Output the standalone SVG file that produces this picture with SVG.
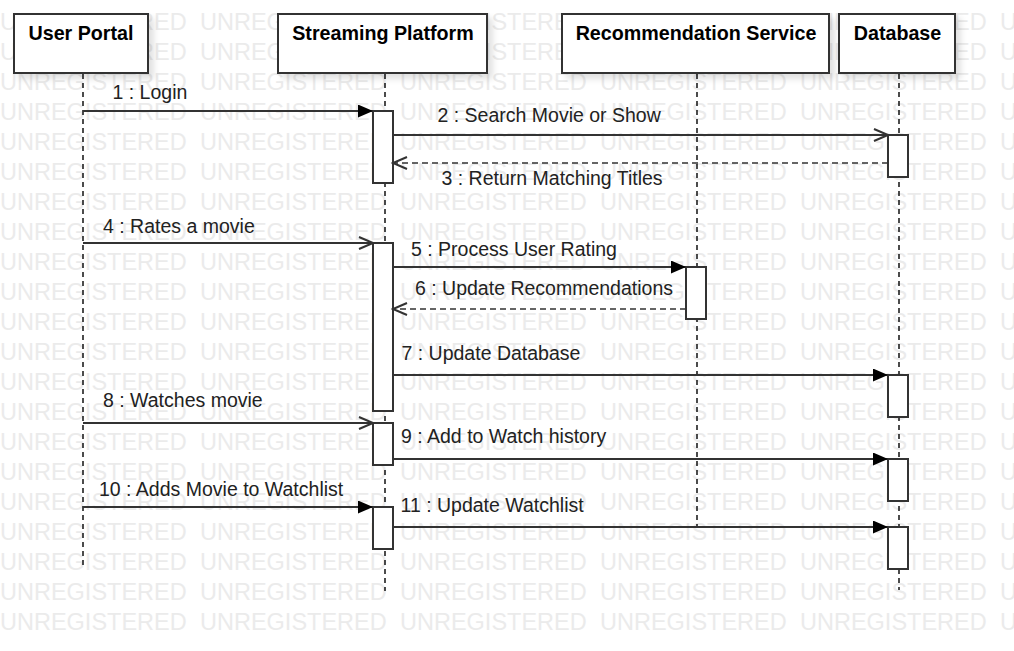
<svg xmlns="http://www.w3.org/2000/svg" width="1014" height="651" viewBox="0 0 1014 651">
<defs>
<style>
.wm{font-family:"Liberation Sans",Arial,sans-serif;font-size:23.5px;fill:#ebebeb}
.hd{fill:#fff;stroke:#333;stroke-width:2}
.ht{font-family:"Liberation Sans",Arial,sans-serif;font-size:19.7px;font-weight:bold;fill:#000;text-anchor:middle}
.ll{stroke:#000;stroke-width:1.4;stroke-dasharray:5 4;fill:none}
.act{fill:#fff;stroke:#333;stroke-width:2}
.msg{stroke:#333;stroke-width:2;fill:none}
.ret{stroke:#333;stroke-width:1.6;fill:none;stroke-dasharray:6 4}
.lb{font-family:"Liberation Sans",Arial,sans-serif;font-size:19.5px;fill:#222}
.sync{marker-end:url(#filled)}
.async{marker-end:url(#open)}
</style>
<filter id="shadow" x="-10%" y="-20%" width="130%" height="160%">
<feGaussianBlur in="SourceAlpha" stdDeviation="3"/>
<feOffset dx="5" dy="5" result="b"/>
<feComponentTransfer><feFuncA type="linear" slope="0.12"/></feComponentTransfer>
<feMerge><feMergeNode/><feMergeNode in="SourceGraphic"/></feMerge>
</filter>
<marker id="filled" markerUnits="userSpaceOnUse" markerWidth="16" markerHeight="14" refX="15" refY="6.5" orient="auto">
<path d="M0,0 L15,6.5 L0,13 Z" fill="#000"/>
</marker>
<marker id="open" markerUnits="userSpaceOnUse" markerWidth="17" markerHeight="16" refX="15" refY="7" orient="auto">
<path d="M1,1 L15,7 L1,13" fill="none" stroke="#333" stroke-width="2"/>
</marker>
</defs>
<rect width="1014" height="651" fill="#fff"/>
<g id="watermark">
<text class="wm" x="0" y="30">UNREGISTERED</text><text class="wm" x="200" y="30">UNREGISTERED</text><text class="wm" x="400" y="30">UNREGISTERED</text><text class="wm" x="600" y="30">UNREGISTERED</text><text class="wm" x="800" y="30">UNREGISTERED</text><text class="wm" x="1000" y="30">UNREGISTERED</text>
<text class="wm" x="0" y="60">UNREGISTERED</text><text class="wm" x="200" y="60">UNREGISTERED</text><text class="wm" x="400" y="60">UNREGISTERED</text><text class="wm" x="600" y="60">UNREGISTERED</text><text class="wm" x="800" y="60">UNREGISTERED</text><text class="wm" x="1000" y="60">UNREGISTERED</text>
<text class="wm" x="0" y="90">UNREGISTERED</text><text class="wm" x="200" y="90">UNREGISTERED</text><text class="wm" x="400" y="90">UNREGISTERED</text><text class="wm" x="600" y="90">UNREGISTERED</text><text class="wm" x="800" y="90">UNREGISTERED</text><text class="wm" x="1000" y="90">UNREGISTERED</text>
<text class="wm" x="0" y="120">UNREGISTERED</text><text class="wm" x="200" y="120">UNREGISTERED</text><text class="wm" x="400" y="120">UNREGISTERED</text><text class="wm" x="600" y="120">UNREGISTERED</text><text class="wm" x="800" y="120">UNREGISTERED</text><text class="wm" x="1000" y="120">UNREGISTERED</text>
<text class="wm" x="0" y="150">UNREGISTERED</text><text class="wm" x="200" y="150">UNREGISTERED</text><text class="wm" x="400" y="150">UNREGISTERED</text><text class="wm" x="600" y="150">UNREGISTERED</text><text class="wm" x="800" y="150">UNREGISTERED</text><text class="wm" x="1000" y="150">UNREGISTERED</text>
<text class="wm" x="0" y="180">UNREGISTERED</text><text class="wm" x="200" y="180">UNREGISTERED</text><text class="wm" x="400" y="180">UNREGISTERED</text><text class="wm" x="600" y="180">UNREGISTERED</text><text class="wm" x="800" y="180">UNREGISTERED</text><text class="wm" x="1000" y="180">UNREGISTERED</text>
<text class="wm" x="0" y="210">UNREGISTERED</text><text class="wm" x="200" y="210">UNREGISTERED</text><text class="wm" x="400" y="210">UNREGISTERED</text><text class="wm" x="600" y="210">UNREGISTERED</text><text class="wm" x="800" y="210">UNREGISTERED</text><text class="wm" x="1000" y="210">UNREGISTERED</text>
<text class="wm" x="0" y="240">UNREGISTERED</text><text class="wm" x="200" y="240">UNREGISTERED</text><text class="wm" x="400" y="240">UNREGISTERED</text><text class="wm" x="600" y="240">UNREGISTERED</text><text class="wm" x="800" y="240">UNREGISTERED</text><text class="wm" x="1000" y="240">UNREGISTERED</text>
<text class="wm" x="0" y="270">UNREGISTERED</text><text class="wm" x="200" y="270">UNREGISTERED</text><text class="wm" x="400" y="270">UNREGISTERED</text><text class="wm" x="600" y="270">UNREGISTERED</text><text class="wm" x="800" y="270">UNREGISTERED</text><text class="wm" x="1000" y="270">UNREGISTERED</text>
<text class="wm" x="0" y="300">UNREGISTERED</text><text class="wm" x="200" y="300">UNREGISTERED</text><text class="wm" x="400" y="300">UNREGISTERED</text><text class="wm" x="600" y="300">UNREGISTERED</text><text class="wm" x="800" y="300">UNREGISTERED</text><text class="wm" x="1000" y="300">UNREGISTERED</text>
<text class="wm" x="0" y="330">UNREGISTERED</text><text class="wm" x="200" y="330">UNREGISTERED</text><text class="wm" x="400" y="330">UNREGISTERED</text><text class="wm" x="600" y="330">UNREGISTERED</text><text class="wm" x="800" y="330">UNREGISTERED</text><text class="wm" x="1000" y="330">UNREGISTERED</text>
<text class="wm" x="0" y="360">UNREGISTERED</text><text class="wm" x="200" y="360">UNREGISTERED</text><text class="wm" x="400" y="360">UNREGISTERED</text><text class="wm" x="600" y="360">UNREGISTERED</text><text class="wm" x="800" y="360">UNREGISTERED</text><text class="wm" x="1000" y="360">UNREGISTERED</text>
<text class="wm" x="0" y="390">UNREGISTERED</text><text class="wm" x="200" y="390">UNREGISTERED</text><text class="wm" x="400" y="390">UNREGISTERED</text><text class="wm" x="600" y="390">UNREGISTERED</text><text class="wm" x="800" y="390">UNREGISTERED</text><text class="wm" x="1000" y="390">UNREGISTERED</text>
<text class="wm" x="0" y="420">UNREGISTERED</text><text class="wm" x="200" y="420">UNREGISTERED</text><text class="wm" x="400" y="420">UNREGISTERED</text><text class="wm" x="600" y="420">UNREGISTERED</text><text class="wm" x="800" y="420">UNREGISTERED</text><text class="wm" x="1000" y="420">UNREGISTERED</text>
<text class="wm" x="0" y="450">UNREGISTERED</text><text class="wm" x="200" y="450">UNREGISTERED</text><text class="wm" x="400" y="450">UNREGISTERED</text><text class="wm" x="600" y="450">UNREGISTERED</text><text class="wm" x="800" y="450">UNREGISTERED</text><text class="wm" x="1000" y="450">UNREGISTERED</text>
<text class="wm" x="0" y="480">UNREGISTERED</text><text class="wm" x="200" y="480">UNREGISTERED</text><text class="wm" x="400" y="480">UNREGISTERED</text><text class="wm" x="600" y="480">UNREGISTERED</text><text class="wm" x="800" y="480">UNREGISTERED</text><text class="wm" x="1000" y="480">UNREGISTERED</text>
<text class="wm" x="0" y="510">UNREGISTERED</text><text class="wm" x="200" y="510">UNREGISTERED</text><text class="wm" x="400" y="510">UNREGISTERED</text><text class="wm" x="600" y="510">UNREGISTERED</text><text class="wm" x="800" y="510">UNREGISTERED</text><text class="wm" x="1000" y="510">UNREGISTERED</text>
<text class="wm" x="0" y="540">UNREGISTERED</text><text class="wm" x="200" y="540">UNREGISTERED</text><text class="wm" x="400" y="540">UNREGISTERED</text><text class="wm" x="600" y="540">UNREGISTERED</text><text class="wm" x="800" y="540">UNREGISTERED</text><text class="wm" x="1000" y="540">UNREGISTERED</text>
<text class="wm" x="0" y="570">UNREGISTERED</text><text class="wm" x="200" y="570">UNREGISTERED</text><text class="wm" x="400" y="570">UNREGISTERED</text><text class="wm" x="600" y="570">UNREGISTERED</text><text class="wm" x="800" y="570">UNREGISTERED</text><text class="wm" x="1000" y="570">UNREGISTERED</text>
<text class="wm" x="0" y="600">UNREGISTERED</text><text class="wm" x="200" y="600">UNREGISTERED</text><text class="wm" x="400" y="600">UNREGISTERED</text><text class="wm" x="600" y="600">UNREGISTERED</text><text class="wm" x="800" y="600">UNREGISTERED</text><text class="wm" x="1000" y="600">UNREGISTERED</text>
<text class="wm" x="0" y="630">UNREGISTERED</text><text class="wm" x="200" y="630">UNREGISTERED</text><text class="wm" x="400" y="630">UNREGISTERED</text><text class="wm" x="600" y="630">UNREGISTERED</text><text class="wm" x="800" y="630">UNREGISTERED</text><text class="wm" x="1000" y="630">UNREGISTERED</text>
</g>
<g id="user-portal">
<line class="ll" x1="83" y1="74" x2="83" y2="565"/>
<rect class="hd" x="14" y="14" width="134" height="59" filter="url(#shadow)"/>
<text class="ht" x="81" y="40">User Portal</text>
</g>
<g id="streaming-platform">
<line class="ll" x1="385" y1="74" x2="385" y2="591"/>
<rect class="hd" x="278" y="14" width="209" height="59" filter="url(#shadow)"/>
<text class="ht" x="383" y="40">Streaming Platform</text>
<rect class="act" x="373" y="111" width="20" height="72"/>
<rect class="act" x="373" y="243" width="20" height="168"/>
<rect class="act" x="373" y="423" width="20" height="42"/>
<rect class="act" x="373" y="507" width="20" height="42"/>
</g>
<g id="recommendation-service">
<line class="ll" x1="697" y1="74" x2="697" y2="528"/>
<rect class="hd" x="562" y="14" width="267" height="59" filter="url(#shadow)"/>
<text class="ht" x="696" y="40">Recommendation Service</text>
<rect class="act" x="686" y="267" width="20" height="52"/>
</g>
<g id="database">
<line class="ll" x1="899" y1="74" x2="899" y2="590"/>
<rect class="hd" x="839" y="14" width="116" height="59" filter="url(#shadow)"/>
<text class="ht" x="897.5" y="40">Database</text>
<rect class="act" x="888" y="135" width="20" height="42"/>
<rect class="act" x="888" y="375" width="20" height="42"/>
<rect class="act" x="888" y="459" width="20" height="42"/>
<rect class="act" x="888" y="527" width="20" height="42"/>
</g>
<g id="connectors">
<path class="msg sync" d="M83,111 H373"/>
<text class="lb" x="112.5" y="99">1 : Login</text>
<path class="msg async" d="M393,135 H888"/>
<text class="lb" x="437.5" y="122">2 : Search Movie or Show</text>
<path class="ret async" d="M888,163 H393"/>
<text class="lb" x="441.5" y="185">3 : Return Matching Titles</text>
<path class="msg async" d="M83,243 H373"/>
<text class="lb" x="103" y="233">4 : Rates a movie</text>
<path class="msg sync" d="M393,267 H686"/>
<text class="lb" x="411" y="256">5 : Process User Rating</text>
<path class="ret async" d="M686,309 H393"/>
<text class="lb" x="415" y="295">6 : Update Recommendations</text>
<path class="msg sync" d="M393,375 H888"/>
<text class="lb" x="401.5" y="360">7 : Update Database</text>
<path class="msg async" d="M83,423 H373"/>
<text class="lb" x="103" y="407">8 : Watches movie</text>
<path class="msg sync" d="M393,459 H888"/>
<text class="lb" x="401" y="443">9 : Add to Watch history</text>
<path class="msg sync" d="M83,507 H373"/>
<text class="lb" x="99" y="496">10 : Adds Movie to Watchlist</text>
<path class="msg sync" d="M393,527 H888"/>
<text class="lb" x="400.5" y="512">11 : Update Watchlist</text>
</g>
</svg>
